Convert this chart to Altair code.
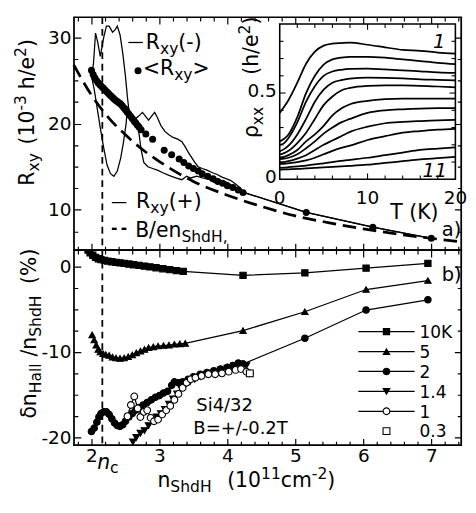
import altair as alt
import pandas as pd

FONT = "DejaVu Sans"

# ---------------- panel a) data ----------------
avg_n = [2.000, 2.025, 2.050, 2.075, 2.100, 2.125, 2.150, 2.175, 2.200, 2.225, 2.250, 2.275,
         2.300, 2.325, 2.350, 2.375, 2.400, 2.425, 2.450, 2.475, 2.500, 2.525, 2.550, 2.575,
         2.600, 2.625, 2.650, 2.675, 2.700, 2.730, 2.800, 2.900, 3.070, 3.180, 3.290, 3.360,
         3.430, 3.500, 3.570, 3.630, 3.710, 3.790, 3.860, 3.930, 4.000, 4.080, 4.160, 4.230,
         5.160, 6.140, 7.000]
avg_R = [26.2, 25.7, 25.3, 25.0, 24.7, 24.5, 24.3, 24.1, 23.9, 23.7, 23.5, 23.3,
         23.1, 22.9, 22.75, 22.6, 22.45, 22.3, 22.1, 21.85, 21.6, 21.35, 21.1, 20.85,
         20.6, 20.35, 20.1, 19.85, 19.6, 19.3, 18.8, 18.2, 16.9, 16.4, 15.9, 15.5,
         15.1, 14.8, 14.5, 14.2, 13.9, 13.6, 13.3, 13.1, 12.8, 12.6, 12.3, 12.0,
         9.7, 8.0, 6.7]

minus_n = [2.00, 2.03, 2.06, 2.09, 2.13, 2.18, 2.22, 2.26, 2.31, 2.35, 2.38, 2.42, 2.46,
           2.50, 2.53, 2.56, 2.60, 2.65, 2.70, 2.75, 2.80, 2.84, 2.88, 2.93, 2.97, 3.02,
           3.08, 3.14, 3.20, 3.27, 3.33, 3.38, 3.43, 3.48, 3.52, 3.57, 3.63, 3.70, 3.78,
           3.85, 3.92, 3.99, 4.05, 4.12, 4.18, 4.25, 5.16, 6.14, 7.00]
minus_R = [25.5, 27.0, 30.5, 29.5, 27.8, 30.0, 31.3, 31.3, 30.6, 30.9, 31.3, 30.3, 28.2,
           25.5, 23.0, 21.0, 20.0, 20.6, 20.9, 21.3, 20.8, 20.4, 20.8, 21.3, 20.7, 19.8,
           19.1, 18.7, 18.4, 18.2, 17.9, 17.3, 16.6, 16.0, 15.5, 15.0, 14.8, 14.6, 14.3,
           14.1, 13.8, 13.6, 13.4, 13.0, 12.6, 12.0, 9.7, 8.0, 6.7]

plus_n = [2.00, 2.04, 2.08, 2.13, 2.18, 2.23, 2.28, 2.33, 2.38, 2.43, 2.47, 2.51, 2.53,
          2.58, 2.66, 2.70, 2.73, 2.77, 2.83, 2.90, 2.97, 3.05, 3.14, 3.24, 3.33, 3.40,
          3.46, 3.55, 3.63, 3.71, 3.80, 3.86, 3.93, 4.00, 4.07, 4.13, 4.20, 4.25, 5.16,
          6.14, 7.00]
plus_R = [25.5, 24.0, 22.0, 19.5, 17.2, 15.2, 14.2, 13.9, 14.5, 16.0, 17.8, 20.0, 22.0,
          21.0, 20.2, 18.8, 17.0, 15.5, 15.0, 14.8, 14.6, 14.3, 14.0, 13.7, 13.5, 13.9,
          13.7, 13.9, 13.7, 13.6, 13.2, 13.0, 13.3, 13.2, 12.8, 12.6, 12.2, 12.0, 9.7,
          8.0, 6.7]

ben_n = [1.74, 2.0, 2.25, 2.5, 2.75, 3.0, 3.5, 4.0, 4.5, 5.0, 5.5, 6.0, 6.5, 7.0, 7.44]
ben_R = [26.8, 23.3, 20.7, 18.7, 17.0, 15.6, 13.3, 11.7, 10.4, 9.3, 8.5, 7.8, 7.2, 6.7, 6.3]

n_c = 2.16

# ---------------- inset data ----------------
inset_T = [0, 0.5, 1, 2, 3, 4, 5, 6, 7, 8, 10, 12, 14, 16, 18, 20]
rho_curves = [
    [0.385, 0.42, 0.46, 0.56, 0.67, 0.74, 0.775, 0.787, 0.79, 0.792, 0.78, 0.765, 0.75, 0.745, 0.735, 0.728],
    [0.22, 0.235, 0.26, 0.36, 0.50, 0.60, 0.665, 0.695, 0.705, 0.71, 0.71, 0.705, 0.695, 0.685, 0.675, 0.667],
    [0.20, 0.21, 0.24, 0.33, 0.45, 0.54, 0.60, 0.625, 0.635, 0.64, 0.642, 0.637, 0.632, 0.626, 0.62, 0.617],
    [0.163, 0.175, 0.195, 0.26, 0.35, 0.45, 0.52, 0.56, 0.575, 0.583, 0.589, 0.588, 0.585, 0.58, 0.577, 0.574],
    [0.144, 0.152, 0.165, 0.21, 0.27, 0.35, 0.43, 0.48, 0.515, 0.53, 0.542, 0.545, 0.544, 0.542, 0.538, 0.533],
    [0.126, 0.13, 0.14, 0.17, 0.22, 0.26, 0.31, 0.37, 0.41, 0.435, 0.455, 0.465, 0.468, 0.468, 0.468, 0.468],
    [0.117, 0.12, 0.125, 0.145, 0.18, 0.22, 0.265, 0.30, 0.33, 0.35, 0.385, 0.40, 0.406, 0.41, 0.412, 0.413],
    [0.098, 0.10, 0.105, 0.12, 0.14, 0.17, 0.20, 0.225, 0.25, 0.275, 0.305, 0.325, 0.333, 0.338, 0.342, 0.344],
    [0.089, 0.09, 0.093, 0.10, 0.11, 0.125, 0.145, 0.165, 0.182, 0.195, 0.228, 0.25, 0.27, 0.28, 0.288, 0.293],
    [0.067, 0.068, 0.07, 0.075, 0.08, 0.086, 0.093, 0.10, 0.107, 0.113, 0.125, 0.14, 0.155, 0.17, 0.178, 0.185],
    [0.056, 0.057, 0.058, 0.06, 0.063, 0.066, 0.069, 0.072, 0.075, 0.078, 0.085, 0.095, 0.105, 0.115, 0.123, 0.13],
]

# ---------------- panel b) data ----------------
series_names = ["10K", "5", "2", "1.4", "1", "0.3"]
n_10K = [1.95, 1.98, 2.02, 2.06, 2.10, 2.14, 2.19, 2.24, 2.30, 2.36, 2.42, 2.48, 2.55,
         2.62, 2.70, 2.78, 2.86, 2.95, 3.05, 3.15, 3.25, 3.35, 4.23, 5.14, 6.04, 6.95]
d_10K = [1.9, 1.6, 1.3, 1.05, 0.9, 0.8, 0.7, 0.62, 0.55, 0.48, 0.42, 0.36, 0.28,
         0.2, 0.12, 0.04, -0.05, -0.15, -0.27, -0.38, -0.5, -0.58, -1.05, -0.75, -0.2, 0.35]
n_5K = [2.01, 2.04, 2.07, 2.10, 2.13, 2.17, 2.21, 2.26, 2.31, 2.36, 2.42, 2.48, 2.54,
        2.60, 2.66, 2.72, 2.78, 2.84, 2.91, 2.98, 3.06, 3.14, 3.22, 3.30, 3.38, 4.23,
        5.14, 6.04, 6.95]
d_5K = [-8.0, -8.6, -9.2, -9.7, -10.0, -10.2, -10.3, -10.4, -10.6, -10.7, -10.75, -10.7,
        -10.55, -10.35, -10.1, -9.9, -9.7, -9.5, -9.4, -9.3, -9.25, -9.2, -9.1, -9.05,
        -9.0, -7.5, -5.3, -2.7, -1.65]
n_2K = [2.00, 2.04, 2.08, 2.11, 2.14, 2.18, 2.22, 2.26, 2.30, 2.34, 2.38, 2.42, 2.46,
        2.50, 2.55, 2.60, 2.65, 2.70, 2.76, 2.82, 2.88, 2.94, 3.00, 3.06, 3.12, 3.18,
        3.22, 3.28, 3.34, 3.42, 3.50, 3.60, 3.70, 3.80, 3.90, 4.00, 4.08, 4.16, 4.23,
        5.14, 6.04, 6.95]
d_2K = [-19.3, -18.9, -18.2, -17.6, -17.2, -17.0, -17.0, -17.3, -17.8, -18.3, -18.6,
        -18.7, -18.5, -18.1, -17.6, -17.2, -16.8, -16.5, -16.2, -15.9, -15.6, -15.3,
        -15.1, -14.8, -14.6, -13.9, -13.5, -13.6, -13.5, -13.2, -12.9, -12.6, -12.4,
        -12.2, -12.0, -11.8, -11.6, -11.3, -11.4, -8.4, -5.1, -3.9]
n_14K = [2.61, 2.66, 2.72, 2.78, 2.84, 2.90, 2.96, 3.02, 3.08, 3.14, 3.20, 3.26, 3.32,
         3.38, 3.45, 3.52, 3.60, 3.70, 3.80, 3.90, 4.00, 4.10, 4.20, 4.28]
d_14K = [-20.5, -20.0, -19.5, -19.2, -18.6, -18.0, -17.6, -17.2, -16.7, -16.1, -15.5,
         -14.9, -14.3, -13.9, -13.5, -13.2, -12.9, -12.6, -12.4, -12.1, -11.9, -11.6,
         -11.4, -11.6]
n_1K = [2.53, 2.58, 2.63, 2.68, 2.72, 2.77, 2.82, 2.87, 2.92, 2.98, 3.04, 3.10, 3.16,
        3.22, 3.28, 3.34, 3.40, 3.46, 3.53, 3.62, 3.72, 3.82, 3.92, 4.02, 4.12, 4.20,
        4.28, 4.33]
d_1K = [-17.5, -16.2, -15.2, -16.6, -17.6, -17.0, -16.8, -17.7, -18.1, -17.9, -17.3,
        -16.8, -16.3, -15.6, -14.9, -14.2, -13.6, -13.2, -13.0, -12.8, -12.6, -12.6,
        -12.5, -12.3, -12.1, -12.0, -12.3, -12.5]
n_03K = [4.33]
d_03K = [-12.5]

# ---------------- layout constants ----------------
W, H1, H2 = 399, 240, 201
XDOM = [1.743, 7.44]
Y1DOM = [5.33, 32.33]
Y2DOM = [-20.9, 1.9]
MAIN, SUB = 21, 16
INR = 393  # inset right edge (px inside top panel)

xs = alt.Scale(domain=XDOM, nice=False, zero=False)
y1s = alt.Scale(domain=Y1DOM, nice=False, zero=False)
y2s = alt.Scale(domain=Y2DOM, nice=False, zero=False)
ins_x = alt.Scale(domain=[0, 20], range=[212, INR], nice=False, zero=False)
ins_y = alt.Scale(domain=[0, 0.9], range=[167, 7], nice=False, zero=False)

xticks = [round(1.8 + 0.2 * i, 1) for i in range(29)]
y1ticks = [7.5 + 2.5 * i for i in range(10)]
y2ticks = [-20 + 2.5 * i for i in range(9)]


def gdash(test, L, big=7, small=4):
    return {"condition": {"test": test, "value": [big, L - 2 * big, big, 3000]},
            "value": [small, L - 2 * small, small, 3000]}


XMAJ = "abs(datum.value - round(datum.value)) < 0.01"
YMAJ = "abs(datum.value % 10) < 0.01"
common_grid = dict(grid=True, gridColor="black", gridWidth=1.2, gridOpacity=1,
                   ticks=False, domain=False, title=None)
lab = dict(labelFont=FONT, labelFontSize=19, labelColor="black", labelOverlap=False,
           labelFlush=False)

ax_x_top = alt.Axis(orient="bottom", values=xticks, labels=False,
                    gridDash=gdash(XMAJ, H1), **common_grid)
ax_y_top = alt.Axis(orient="left", values=y1ticks, labelPadding=3,
                    labelExpr=f"{YMAJ} ? datum.label : ''",
                    gridDash=gdash(YMAJ, W), **common_grid, **lab)
ax_x_bot = alt.Axis(orient="bottom", values=xticks, labelPadding=2,
                    labelExpr=f"{XMAJ} ? '' + round(datum.value) : ''",
                    gridDash=gdash(XMAJ, H2), **common_grid, **lab)
ax_y_bot = alt.Axis(orient="left", values=y2ticks, labelPadding=3,
                    labelExpr=f"{YMAJ} ? '' + datum.value : ''",
                    gridDash=gdash(YMAJ, W), **common_grid, **lab)

# ---------------- text helpers (DejaVu Sans advance widths) ----------------
AW = {' ': 318, '(': 390, ')': 390, '-': 361, '+': 838, '<': 838, '>': 838,
      '/': 337, ',': 318, '.': 318, '=': 838, '%': 950, 'B': 686, 'H': 752, 'K': 656,
      'R': 695, 'S': 635, 'T': 611, 'a': 613, 'c': 550, 'd': 635, 'e': 615, 'h': 634,
      'i': 278, 'l': 278, 'm': 974, 'n': 634, 'x': 592, 'y': 592, 'b': 635, 'ρ': 635,
      'δ': 612}


def tw(s, fs):
    return sum(AW.get(ch, 636) for ch in s) * fs / 1000.0


def plen(t, k, main, sub):
    if k == "gap":
        return float(t)
    return tw(t, main if k == "n" else sub)


def rich(parts, x0, y0, rot=False, center=None, main=MAIN, sub=SUB):
    if center is not None:
        total = sum(plen(t, k, main, sub) for t, k in parts)
        y0 = center + total / 2.0
    rows, pos = [], 0.0
    for txt, kind in parts:
        if kind != "gap":
            size = main if kind == "n" else sub
            shift = {"n": 0, "sub": 5, "sup": -8}[kind]
            if rot:
                rows.append(dict(px=x0 + shift, py=y0 - pos, text=txt, fs=size, ang=270))
            else:
                rows.append(dict(px=x0 + pos, py=y0 + shift, text=txt, fs=size, ang=0))
        pos += plen(txt, kind, main, sub)
    return rows


def text_layer(rows, italic=False):
    return alt.Chart(pd.DataFrame(rows)).mark_text(
        align="left", baseline="alphabetic", font=FONT, color="black",
        fontStyle="italic" if italic else "normal").encode(
        x=alt.X("px:Q", scale=None, axis=None),
        y=alt.Y("py:Q", scale=None, axis=None),
        text="text:N",
        size=alt.Size("fs:Q", scale=None, legend=None),
        angle=alt.Angle("ang:Q", scale=None, legend=None))


def seg_layer(rows, **kw):
    return alt.Chart(pd.DataFrame(rows)).mark_rule(color="black", **kw).encode(
        x=alt.X("x:Q", scale=None, axis=None), x2="x2:Q",
        y=alt.Y("y:Q", scale=None, axis=None))


# ---------------- top panel ----------------
X1 = lambda f: alt.X(f, scale=xs, axis=ax_x_top)
Y1 = lambda f: alt.Y(f, scale=y1s, axis=ax_y_top)

df_nc = pd.DataFrame({"n": [n_c]})
ben_line = alt.Chart(pd.DataFrame({"n": ben_n, "R": ben_R})).mark_line(
    color="black", strokeWidth=2.8, strokeDash=[14, 7], interpolate="monotone").encode(
    x=X1("n:Q"), y=Y1("R:Q"))
minus_line = alt.Chart(pd.DataFrame({"n": minus_n, "R": minus_R})).mark_line(
    color="black", strokeWidth=1.3).encode(x=X1("n:Q"), y=Y1("R:Q"))
plus_line = alt.Chart(pd.DataFrame({"n": plus_n, "R": plus_R})).mark_line(
    color="black", strokeWidth=1.3).encode(x=X1("n:Q"), y=Y1("R:Q"))
avg_pts = alt.Chart(pd.DataFrame({"n": avg_n, "R": avg_R})).mark_circle(
    color="black", size=52, opacity=1).encode(x=X1("n:Q"), y=Y1("R:Q"))
nc_top = alt.Chart(df_nc).mark_rule(color="black", strokeWidth=1.8, strokeDash=[7, 5]).encode(x=X1("n:Q"))

main_top = alt.layer(nc_top, ben_line, minus_line, plus_line, avg_pts)

# inset
inset_frame = alt.Chart(pd.DataFrame({"x0": [0], "x1": [20], "y0": [0], "y1": [0.9]})).mark_rect(
    fill="white", stroke="black", strokeWidth=1.6).encode(
    x=alt.X("x0:Q", scale=ins_x, axis=None), x2="x1:Q",
    y=alt.Y("y0:Q", scale=ins_y, axis=None), y2="y1:Q")

rows = []
for k, curve in enumerate(rho_curves):
    for T, r in zip(inset_T, curve):
        rows.append({"curve": k + 1, "T": T, "rho": r})
inset_lines = alt.Chart(pd.DataFrame(rows)).mark_line(
    color="black", strokeWidth=1.8, interpolate="monotone").encode(
    x=alt.X("T:Q", scale=ins_x, axis=None), y=alt.Y("rho:Q", scale=ins_y, axis=None),
    detail="curve:N")

ins_xminor = pd.DataFrame({"T": [2, 4, 6, 8, 12, 14, 16, 18]})
ins_xmajor = pd.DataFrame({"T": [10]})
ins_yminor = pd.DataFrame({"r": [0.1, 0.2, 0.3, 0.4, 0.6, 0.7, 0.8]})
ins_ymajor = pd.DataFrame({"r": [0.5]})


def xtick(df, y1, y2):
    return alt.Chart(df).mark_rule(color="black", strokeWidth=1.1).encode(
        x=alt.X("T:Q", scale=ins_x, axis=None), y=alt.value(y1), y2=alt.value(y2))


def ytick(df, x1, x2):
    return alt.Chart(df).mark_rule(color="black", strokeWidth=1.1).encode(
        y=alt.Y("r:Q", scale=ins_y, axis=None), x=alt.value(x1), x2=alt.value(x2))


inset_ticks = [xtick(ins_xminor, 167, 163), xtick(ins_xminor, 7, 11),
               xtick(ins_xmajor, 167, 161), xtick(ins_xmajor, 7, 13),
               ytick(ins_yminor, 212, 216), ytick(ins_yminor, INR, INR - 4),
               ytick(ins_ymajor, 212, 218), ytick(ins_ymajor, INR, INR - 6)]

ins_xlab = alt.Chart(pd.DataFrame({"T": [0, 10, 20]})).mark_text(
    font=FONT, fontSize=19, baseline="alphabetic", align="center", color="black").encode(
    x=alt.X("T:Q", scale=ins_x, axis=None), y=alt.value(192), text="T:Q")
ins_ylab = alt.Chart(pd.DataFrame({"r": [0, 0.5]})).mark_text(
    font=FONT, fontSize=19, baseline="middle", align="right", color="black", dy=-2).encode(
    y=alt.Y("r:Q", scale=ins_y, axis=None), x=alt.value(209), text="r:Q")

inset = alt.layer(inset_frame, inset_lines, *inset_ticks, ins_xlab, ins_ylab)

t_rows = []
t_rows += rich([("R", "n"), ("xy", "sub"), ("(-)", "n")], 74, 33)
t_rows += rich([("<R", "n"), ("xy", "sub"), (">", "n")], 71, 60)
t_rows += rich([("R", "n"), ("xy", "sub"), ("(+)", "n")], 64, 197)
t_rows += rich([("B/en", "n"), ("ShdH,", "sub")], 63, 226.5)
t_rows += rich([("R", "n"), ("xy", "sub"), (9, "gap"), ("(10", "n"), ("-3", "sup"), (6, "gap"),
                ("h/e", "n"), ("2", "sup"), (")", "n")], -41.5, 0, rot=True, center=98)
t_rows += rich([("ρ", "n"), ("xx", "sub"), (33, "gap"), ("(h/e", "n"), ("2", "sup"), (")", "n")],
               189.5, 124.5, rot=True)
t_rows += rich([("T (K)", "n")], 326, 208)
t_rows += rich([("a)", "n")], 379, 225, main=20)
t_ital = rich([("1", "n")], 370, 32, main=20) + rich([("11", "n")], 359, 165, main=20)

top_segs = seg_layer([{"x": 56, "x2": 71, "y": 26}, {"x": 39, "x2": 54, "y": 191}], strokeWidth=1.3)
top_dash = seg_layer([{"x": 39, "x2": 44, "y": 218}, {"x": 49, "x2": 54, "y": 218}], strokeWidth=2.4)
top_dot = alt.Chart(pd.DataFrame({"x": [66], "y": [55]})).mark_circle(
    color="black", size=52, opacity=1).encode(
    x=alt.X("x:Q", scale=None, axis=None), y=alt.Y("y:Q", scale=None, axis=None))

top = alt.layer(main_top, inset, text_layer(t_rows), text_layer(t_ital, italic=True),
                top_segs, top_dash, top_dot).resolve_scale(
    x="independent", y="independent").properties(width=W, height=H1)

# ---------------- bottom panel ----------------
X2 = lambda f: alt.X(f, scale=xs, axis=ax_x_bot)
Y2 = lambda f: alt.Y(f, scale=y2s, axis=ax_y_bot)

brow = []
for name, ns, ds in zip(series_names, [n_10K, n_5K, n_2K, n_14K, n_1K, n_03K],
                        [d_10K, d_5K, d_2K, d_14K, d_1K, d_03K]):
    for a, b in zip(ns, ds):
        brow.append({"series": name, "n": a, "d": b})
df_b = pd.DataFrame(brow)

shape_sc = alt.Scale(domain=series_names,
                     range=["square", "triangle-up", "circle", "triangle-down", "circle", "square"])
fill_sc = alt.Scale(domain=series_names, range=["black", "black", "black", "black", "white", "white"])
size_sc = alt.Scale(domain=series_names, range=[42, 50, 45, 50, 32, 22])

b_lines = alt.Chart(df_b).transform_filter("datum.series != '0.3'").mark_line(
    color="black", strokeWidth=1.3, clip=True).encode(x=X2("n:Q"), y=Y2("d:Q"), detail="series:N")
b_pts = alt.Chart(df_b).mark_point(filled=True, stroke="black", strokeWidth=1.1, opacity=1, clip=True).encode(
    x=X2("n:Q"), y=Y2("d:Q"),
    shape=alt.Shape("series:N", scale=shape_sc, legend=None),
    fill=alt.Fill("series:N", scale=fill_sc, legend=None),
    size=alt.Size("series:N", scale=size_sc, legend=None))
nc_bot = alt.Chart(df_nc).mark_rule(color="black", strokeWidth=1.8, strokeDash=[7, 5]).encode(x=X2("n:Q"))

leg_y = [84, 104.5, 125, 145.5, 166, 186.5]
df_leg = pd.DataFrame({"series": series_names, "py": leg_y})
leg_lines = alt.Chart(df_leg).transform_filter("datum.series != '0.3'").mark_rule(
    color="black", strokeWidth=1.3).encode(
    x=alt.value(293), x2=alt.value(351), y=alt.Y("py:Q", scale=None, axis=None))
leg_pts = alt.Chart(df_leg).mark_point(filled=True, stroke="black", strokeWidth=1.1, opacity=1).encode(
    x=alt.value(322), y=alt.Y("py:Q", scale=None, axis=None),
    shape=alt.Shape("series:N", scale=shape_sc, legend=None),
    fill=alt.Fill("series:N", scale=fill_sc, legend=None),
    size=alt.Size("series:N", scale=size_sc, legend=None))

b_rows = []
for name, yy in zip(series_names, leg_y):
    b_rows += rich([(name, "n")], 356, yy + 6.5, main=17.5)
b_rows += rich([("Si4/32", "n")], 126, 166, main=18.5)
b_rows += rich([("B=+/-0.2T", "n")], 123, 189, main=18.5)
b_rows += rich([("b)", "n")], 379, 32, main=20)
b_rows += rich([("δn", "n"), ("Hall", "sub"), (7, "gap"), ("/n", "n"), ("ShdH", "sub"), (12, "gap"),
                ("(%)", "n")], -39.5, 0, rot=True, center=86)
b_rows += rich([("n", "n"), ("ShdH", "sub"), (16, "gap"), ("(10", "n"), ("11", "sup"), ("cm", "n"),
                ("-2", "sup"), (")", "n")], 86, 244)
b_rows += [dict(px=37, py=230, text="c", fs=SUB, ang=0)]
b_ital = rich([("n", "n")], 24, 225)

bottom = alt.layer(nc_bot, b_lines, b_pts, leg_lines, leg_pts,
                   text_layer(b_rows), text_layer(b_ital, italic=True)).properties(width=W, height=H2)

chart = alt.vconcat(top, bottom, spacing=0, bounds="flush").properties(
    padding={"left": 4, "top": 0, "right": 0, "bottom": 0},
    background="white").configure_view(stroke="black", strokeWidth=1.8)

chart.save("out.html", embed_options={"renderer": "svg", "actions": False})
